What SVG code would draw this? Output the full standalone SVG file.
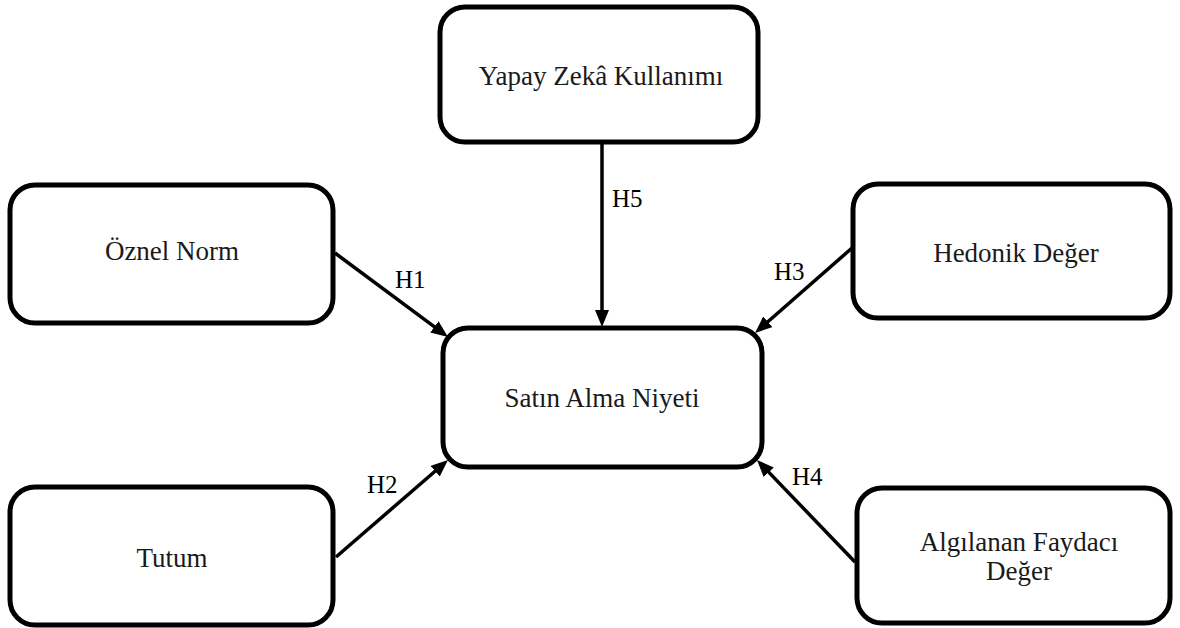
<svg xmlns="http://www.w3.org/2000/svg" width="1180" height="628" viewBox="0 0 1180 628">
<style>
.box{fill:#fff;stroke:#000;stroke-width:5}
.t{font-family:'Liberation Serif','Tinos','Times New Roman','DejaVu Serif',serif;font-size:27px;fill:#1a1a1a;text-anchor:middle}
.h{font-family:'Liberation Serif','Tinos','Times New Roman','DejaVu Serif',serif;font-size:25px;fill:#000}
.c{stroke:#000;stroke-width:3.5;fill:none;marker-end:url(#ah)}
</style>
<defs>
<marker id="ah" markerUnits="userSpaceOnUse" markerWidth="18" markerHeight="15" refX="6" refY="7" orient="auto" viewBox="0 0 18 15">
<path d="M0,0 L17,7 L0,14 z" fill="#000"/>
</marker>
</defs>
<rect width="1180" height="628" fill="#fff"/>
<g id="connectors">
<line class="c" x1="602" y1="142" x2="602" y2="316"/>
<line class="c" x1="335" y1="253" x2="439.2" y2="330.4"/>
<line class="c" x1="852" y1="248" x2="763.3" y2="325.7"/>
<line class="c" x1="336" y1="557" x2="439.7" y2="467.2"/>
<line class="c" x1="855" y1="562" x2="764.6" y2="467.9"/>
<text class="h" x="612" y="207">H5</text>
<text class="h" x="395" y="288">H1</text>
<text class="h" x="774" y="280">H3</text>
<text class="h" x="367" y="493">H2</text>
<text class="h" x="792" y="485">H4</text>
</g>
<g id="yapay"><rect class="box" x="440" y="7" width="318" height="135" rx="25"/><text class="t" x="601" y="85">Yapay Zekâ Kullanımı</text></g>
<g id="oznel"><rect class="box" x="10" y="185" width="323" height="138" rx="25"/><text class="t" x="172" y="260">Öznel Norm</text></g>
<g id="hedonik"><rect class="box" x="853" y="184" width="317" height="134" rx="25"/><text class="t" x="1016" y="262">Hedonik Değer</text></g>
<g id="satin"><rect class="box" x="443" y="328" width="319" height="139" rx="25"/><text class="t" x="602" y="407">Satın Alma Niyeti</text></g>
<g id="tutum"><rect class="box" x="10" y="487" width="323" height="138" rx="25"/><text class="t" x="172" y="567">Tutum</text></g>
<g id="algilanan"><rect class="box" x="857" y="488" width="313" height="135" rx="25"/><text class="t" x="1019" y="551">Algılanan Faydacı</text><text class="t" x="1019" y="580">Değer</text></g>
</svg>
